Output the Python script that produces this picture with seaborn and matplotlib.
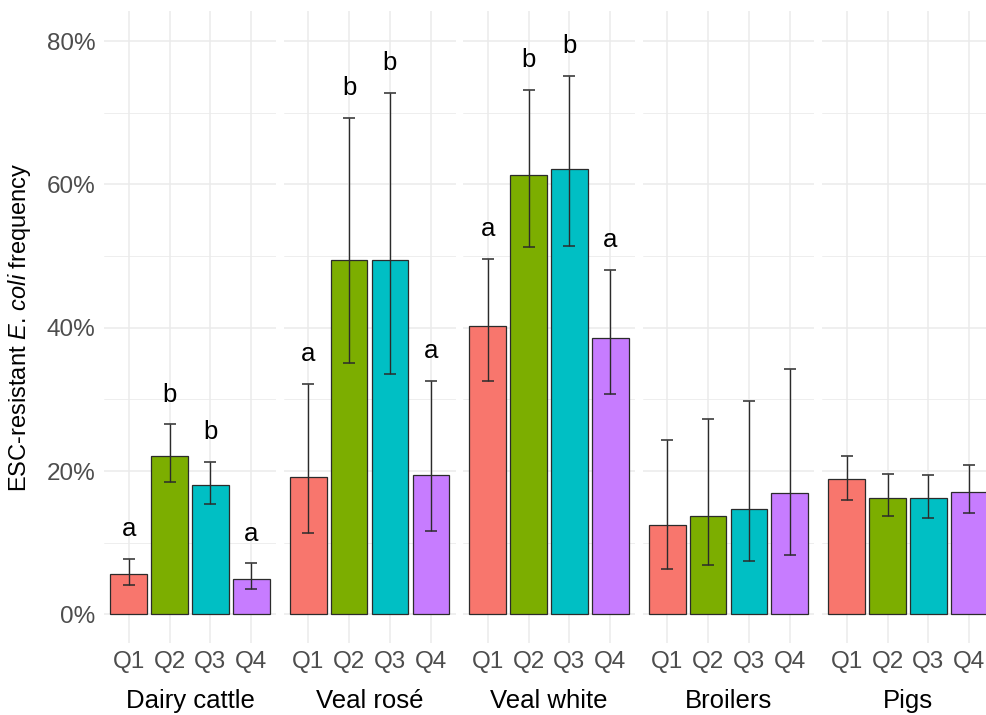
import numpy as np
import pandas as pd
import matplotlib.pyplot as plt
import seaborn as sns

groups = ["Dairy cattle", "Veal rosé", "Veal white", "Broilers", "Pigs"]
quarters = ["Q1", "Q2", "Q3", "Q4"]

# frequency (%) per group, Q1..Q4
freq = [[5.6, 22.1, 18.0, 5.0],
        [19.2, 49.4, 49.5, 19.4],
        [40.3, 61.3, 62.2, 38.5],
        [12.4, 13.7, 14.7, 16.9],
        [18.9, 16.3, 16.2, 17.1]]
lower = [[4.05, 18.4, 15.4, 3.5],
         [11.4, 35.1, 33.6, 11.6],
         [32.6, 51.3, 51.4, 30.8],
         [6.3, 6.9, 7.4, 8.3],
         [15.9, 13.7, 13.4, 14.2]]
upper = [[7.7, 26.5, 21.2, 7.1],
         [32.2, 69.3, 72.8, 32.6],
         [49.6, 73.2, 75.1, 48.0],
         [24.3, 27.2, 29.8, 34.3],
         [22.1, 19.6, 19.5, 20.8]]
letters = [["a", "b", "b", "a"],
           ["a", "b", "b", "a"],
           ["a", "b", "b", "a"],
           ["", "", "", ""],
           ["", "", "", ""]]

colors = ["#F8766D", "#7CAE00", "#00BFC4", "#C77CFF"]
yticks = [0, 20, 40, 60, 80]

rows = []
for gi, g in enumerate(groups):
    for qi, q in enumerate(quarters):
        rows.append([g, q, freq[gi][qi], lower[gi][qi], upper[gi][qi], letters[gi][qi]])
df = pd.DataFrame(rows, columns=["group", "quarter", "freq", "lower", "upper", "letter"])

sns.set_style("white")
plt.rcParams["font.family"] = ["Liberation Sans", "DejaVu Sans"]
plt.rcParams["mathtext.fontset"] = "custom"
plt.rcParams["mathtext.rm"] = "Liberation Sans"
plt.rcParams["mathtext.it"] = "Liberation Sans:italic"

W, H = 986, 715
fig = plt.figure(figsize=(W / 100, H / 100), dpi=100)

for i, g in enumerate(groups):
    left = 104 + i * 179.5
    ax = fig.add_axes([left / W, 1 - 643 / H, 172 / W, (643 - 11) / H])
    sub = df[df["group"] == g].reset_index(drop=True)
    sns.barplot(data=sub, x="quarter", y="freq", hue="quarter", palette=colors,
                saturation=1, width=0.9, edgecolor="#2b2b2b", linewidth=0.9,
                errorbar=None, legend=False, ax=ax)
    ax.errorbar(np.arange(len(sub)), sub["freq"],
                yerr=[sub["freq"] - sub["lower"], sub["upper"] - sub["freq"]],
                fmt="none", ecolor="#2b2b2b", elinewidth=1, capsize=4.5, capthick=1.1)
    for j, r in sub.iterrows():
        if r["letter"]:
            ax.text(j, r["upper"] + 3.2, r["letter"], ha="center", va="baseline",
                    fontsize=18.5, color="black")

    ax.set_xlim(-0.6, 3.6)
    ax.set_ylim(-4.0, 84.2)
    ax.set_yticks(yticks)
    ax.set_yticks([10, 30, 50, 70], minor=True)
    ax.grid(which="major", color="#EBEBEB", linewidth=1.1)
    ax.grid(which="minor", axis="y", color="#EBEBEB", linewidth=0.6)
    ax.set_axisbelow(True)
    for s in ax.spines.values():
        s.set_visible(False)
    ax.tick_params(which="both", length=0, labelsize=17.5, labelcolor="#4D4D4D", pad=6)
    if i == 0:
        ax.set_yticklabels([f"{t}%" for t in yticks])
    else:
        ax.set_yticklabels([])
    ax.set_xlabel("")
    ax.set_ylabel("")
    fig.text((left + 86) / W, 1 - 701 / H, g, ha="center", va="center",
             fontsize=18.5, color="black")

fig.text(20 / W, 1 - 327 / H, "ESC-resistant $\\it{E.\\,coli}$ frequency",
         rotation=90, ha="center", va="center", fontsize=17, color="black")

fig.savefig("out.png", dpi=100)
